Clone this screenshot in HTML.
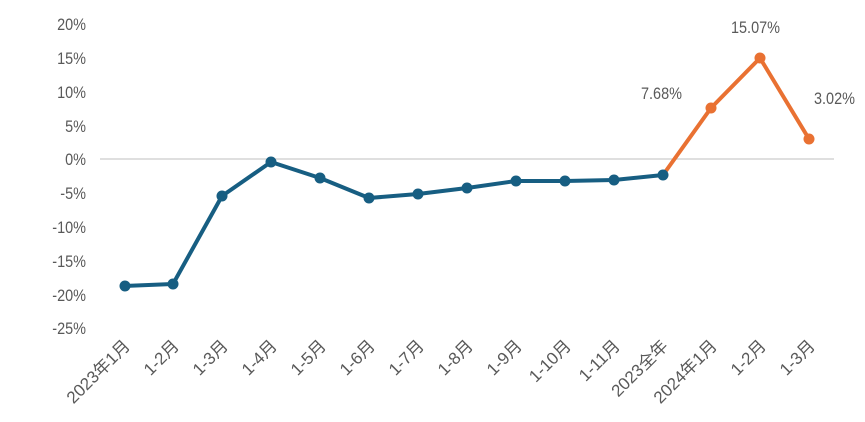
<!DOCTYPE html>
<html><head><meta charset="utf-8"><style>
html,body{margin:0;padding:0;background:#fff;}
svg{display:block;}
text{font-family:"Liberation Sans","Noto Sans CJK SC",sans-serif;fill:#595959;}
</style></head><body>
<svg width="865" height="422" viewBox="0 0 865 422">
<line x1="100" y1="159" x2="834" y2="159" stroke="#bfbfbf" stroke-width="1"/>
<g font-size="17" text-anchor="end" transform="translate(86,0) scale(0.85,1)">
<text x="0" y="30">20%</text>
<text x="0" y="64">15%</text>
<text x="0" y="98">10%</text>
<text x="0" y="132">5%</text>
<text x="0" y="165">0%</text>
<text x="0" y="199">-5%</text>
<text x="0" y="233">-10%</text>
<text x="0" y="267">-15%</text>
<text x="0" y="301">-20%</text>
<text x="0" y="334">-25%</text>
</g>
<polyline fill="none" stroke="#175E82" stroke-width="4" stroke-linejoin="round" points="125,286 173,284 222,196 271,162 320,178 369,198 418,194 467,188 516,181 565,181 614,180 663,175"/>
<polyline fill="none" stroke="#E97132" stroke-width="4" stroke-linejoin="round" points="663,175 711,108 760,58 809,139"/>
<g fill="#175E82">
<circle cx="125" cy="286" r="5.5"/><circle cx="173" cy="284" r="5.5"/><circle cx="222" cy="196" r="5.5"/><circle cx="271" cy="162" r="5.5"/><circle cx="320" cy="178" r="5.5"/><circle cx="369" cy="198" r="5.5"/><circle cx="418" cy="194" r="5.5"/><circle cx="467" cy="188" r="5.5"/><circle cx="516" cy="181" r="5.5"/><circle cx="565" cy="181" r="5.5"/><circle cx="614" cy="180" r="5.5"/><circle cx="663" cy="175" r="5.5"/>
</g>
<g fill="#E97132">
<circle cx="711" cy="108" r="5.5"/><circle cx="760" cy="58" r="5.5"/><circle cx="809" cy="139" r="5.5"/>
</g>
<g font-size="17">
<text transform="translate(641,99) scale(0.85,1)">7.68%</text>
<text transform="translate(731,33) scale(0.85,1)">15.07%</text>
<text transform="translate(814,104) scale(0.85,1)">3.02%</text>
</g>
<g font-size="17" text-anchor="end">
<text transform="translate(131,347) rotate(-45)">2023年1月</text>
<text transform="translate(180,347) rotate(-45)">1-2月</text>
<text transform="translate(229,347) rotate(-45)">1-3月</text>
<text transform="translate(278,347) rotate(-45)">1-4月</text>
<text transform="translate(327,347) rotate(-45)">1-5月</text>
<text transform="translate(376,347) rotate(-45)">1-6月</text>
<text transform="translate(425,347) rotate(-45)">1-7月</text>
<text transform="translate(474,347) rotate(-45)">1-8月</text>
<text transform="translate(523,347) rotate(-45)">1-9月</text>
<text transform="translate(572,347) rotate(-45)">1-10月</text>
<text transform="translate(621,347) rotate(-45)">1-11月</text>
<text transform="translate(669,347) rotate(-45)">2023全年</text>
<text transform="translate(718,347) rotate(-45)">2024年1月</text>
<text transform="translate(767,347) rotate(-45)">1-2月</text>
<text transform="translate(816,347) rotate(-45)">1-3月</text>
</g>
</svg>
</body></html>
